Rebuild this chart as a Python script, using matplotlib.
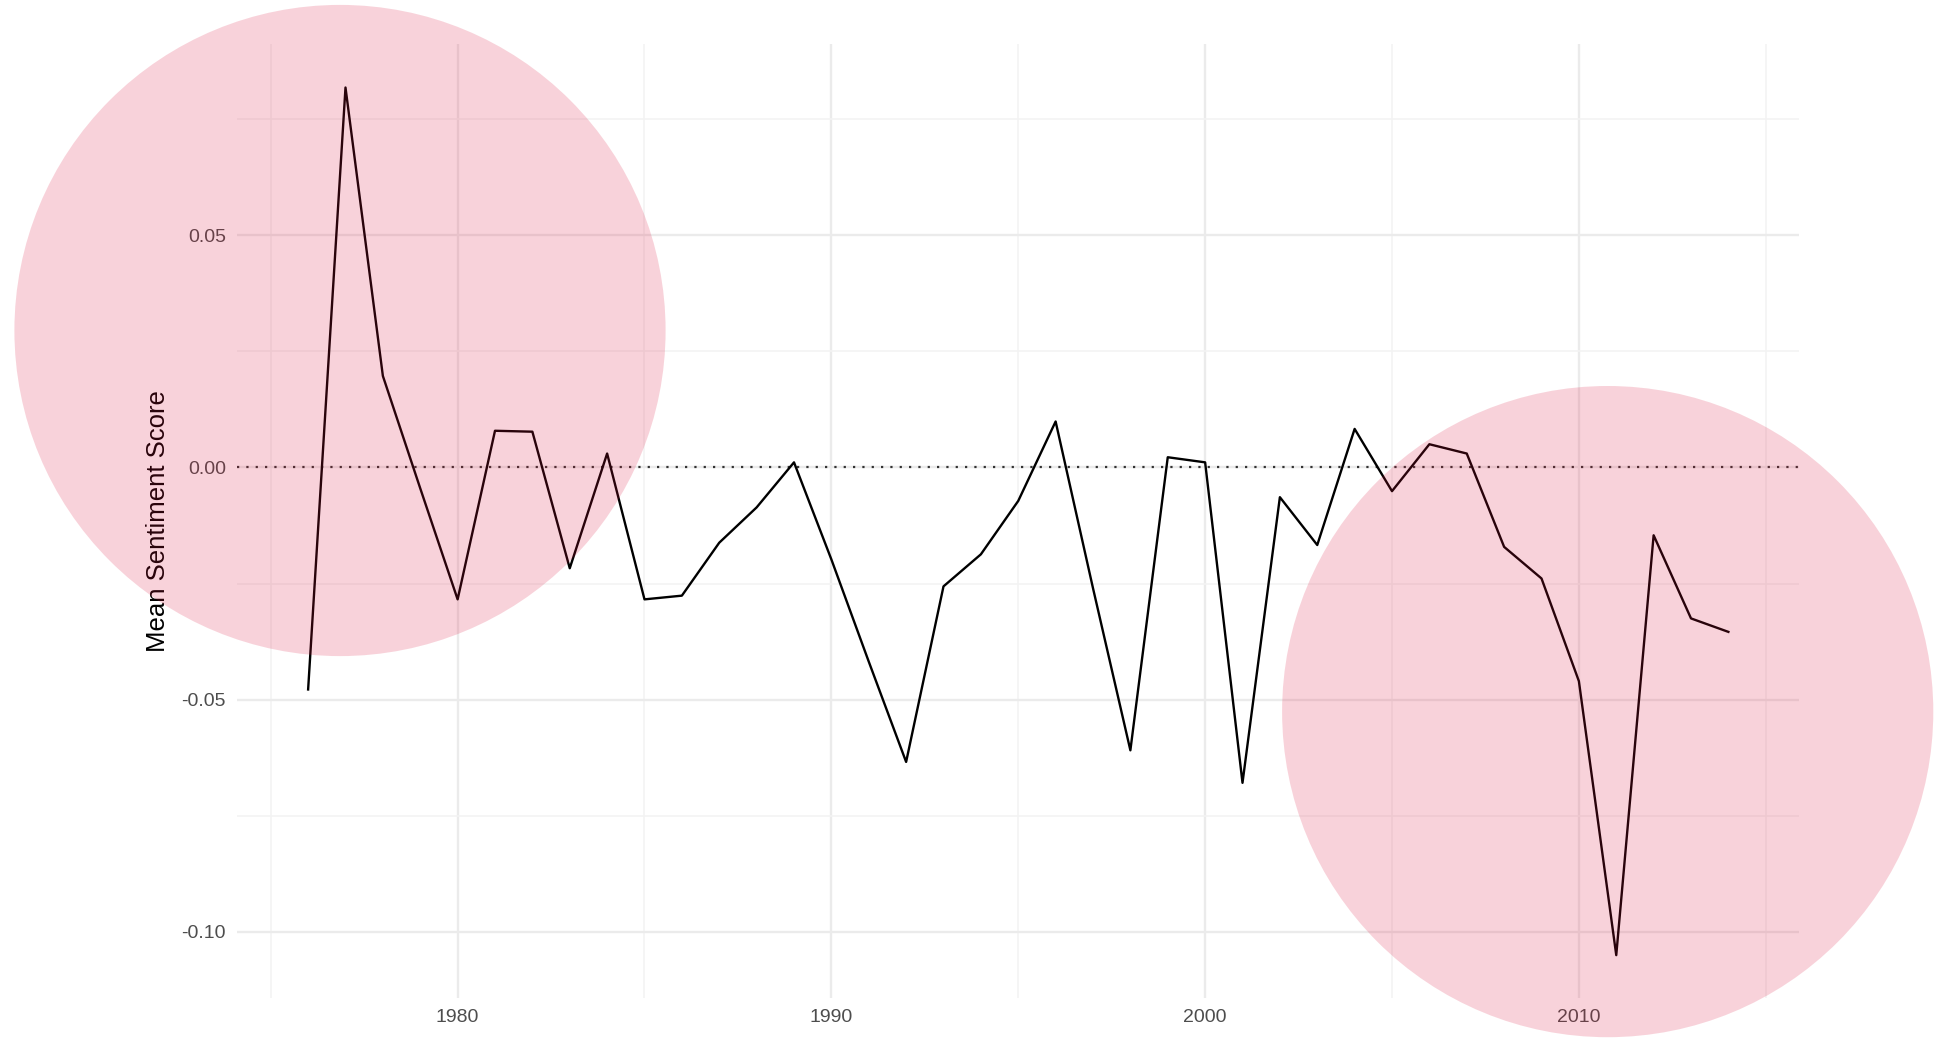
import matplotlib

matplotlib.use("Agg")
import matplotlib.pyplot as plt
from matplotlib.patches import Circle
from matplotlib.ticker import MultipleLocator

plt.rcParams["font.family"] = ["Liberation Sans", "DejaVu Sans"]

# Données : score de sentiment moyen par année
years = list(range(1976, 2015))
mean_sentiment = [
    -0.0478, 0.0818, 0.0197, -0.0045, -0.0284,
    0.0079, 0.0077, -0.0217, 0.0030, -0.0284,
    -0.0276, -0.0162, -0.0086, 0.0011, -0.0198,
    -0.0418, -0.0634, -0.0256, -0.0187, -0.0072,
    0.0099, -0.0260, -0.0609, 0.0022, 0.0011,
    -0.0679, -0.0064, -0.0167, 0.0083, -0.0051,
    0.0050, 0.0030, -0.0171, -0.0239, -0.0460,
    -0.1050, -0.0146, -0.0325, -0.0354,
]
x_ticks = [1980, 1990, 2000, 2010]
y_ticks = [-0.10, -0.05, 0.00, 0.05]
y_tick_labels = ["-0.10", "-0.05", "0.00", "0.05"]

W, H, DPI = 1934, 1038, 100
fig = plt.figure(figsize=(W / DPI, H / DPI), dpi=DPI)
ax = fig.add_axes([0.1226, 0.0382, 0.9304 - 0.1226, 0.9573 - 0.0382])

ax.plot(years, mean_sentiment, color="black", linewidth=1.7, zorder=3)
ax.axhline(0, color="#333333", linestyle=(0, (1, 3.2)), linewidth=1.6, zorder=2)

ax.set_xlim(1974.1, 2015.9)
ax.set_ylim(-0.1143, 0.0911)
ax.set_xticks(x_ticks)
ax.set_yticks(y_ticks)
ax.set_yticklabels(y_tick_labels)
ax.xaxis.set_minor_locator(MultipleLocator(5))
ax.yaxis.set_minor_locator(MultipleLocator(0.025))

ax.grid(which="major", color="#EBEBEB", linewidth=1.7, zorder=0)
ax.grid(which="minor", color="#F3F3F3", linewidth=1.1, zorder=0)
ax.set_axisbelow(True)
for side in ax.spines.values():
    side.set_visible(False)
ax.tick_params(which="both", length=0)
ax.tick_params(axis="both", labelsize=14, labelcolor="#4D4D4D")
ax.tick_params(axis="y", pad=8)
ax.tick_params(axis="x", pad=8)

ax.set_ylabel("Mean Sentiment Score", fontsize=18.5, color="black", labelpad=8)

# cercles de mise en évidence (coordonnées en pouces dans la figure)
for cx, cy in [(340, 330.5), (1607.7, 711.6)]:
    circ = Circle(
        (cx / DPI, (H - cy) / DPI),
        325.6 / DPI,
        transform=fig.dpi_scale_trans,
        facecolor="#DC143C",
        alpha=0.19,
        edgecolor="none",
        zorder=10,
    )
    fig.patches.append(circ)

fig.savefig("out.png", dpi=DPI, facecolor="white")
